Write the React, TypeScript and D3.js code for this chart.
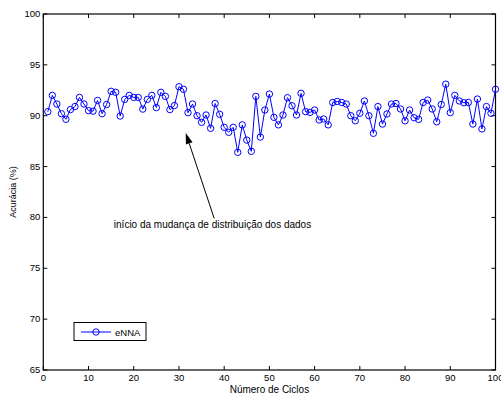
import React from "react";
import * as d3 from "d3";

const cycles: number[] = Array.from({ length: 100 }, (_, i) => i + 1);
const accuracy: number[] = [
  90.4, 92.0, 91.15, 90.2, 89.65, 90.6, 90.9, 91.8, 91.15, 90.5,
  90.45, 91.5, 90.2, 91.1, 92.4, 92.3, 89.97, 91.6, 92.0, 91.8,
  91.8, 90.65, 91.6, 92.0, 90.8, 92.3, 91.9, 90.6, 91.0, 92.85,
  92.6, 90.3, 91.15, 90.0, 89.35, 90.07, 88.76, 91.2, 90.14, 88.86,
  88.37, 88.86, 86.4, 89.1, 87.6, 86.5, 91.9, 87.9, 90.56, 92.13,
  89.84, 89.1, 90.07, 91.77, 90.98, 90.07, 92.2, 90.4, 90.33, 90.56,
  89.58, 89.68, 89.1, 91.3, 91.4, 91.3, 91.15, 90.0, 89.5, 90.24,
  91.45, 90.0, 88.27, 90.9, 89.18, 90.17, 91.15, 91.2, 90.66, 89.5,
  90.56, 89.8, 89.64, 91.3, 91.54, 90.66, 89.4, 91.1, 93.1, 90.3,
  92.0, 91.45, 91.28, 91.3, 89.18, 91.64, 88.7, 90.9, 90.24, 92.6,
];
const xTicks: number[] = [0, 10, 20, 30, 40, 50, 60, 70, 80, 90, 100];
const yTicks: number[] = [65, 70, 75, 80, 85, 90, 95, 100];
const seriesName = "eNNA";
const xLabel = "Número de Ciclos";
const yLabel = "Acurácia (%)";
const annotationText = "início da mudança de distribuição dos dados";
const arrowTip = { x: 31.5, y: 88.3 };
const arrowTail = { x: 37.8, y: 79.9 };
const textPos = { x: 15.6, y: 78.96 };

export default function App() {
  const W = 501, H = 398;
  const left = 43.3, right = 495.5, top = 14, bottom = 370;
  const x = d3.scaleLinear().domain([0, 100]).range([left, right]);
  const y = d3.scaleLinear().domain([65, 100]).range([bottom, top]);
  const line = d3
    .line<number>()
    .x((_, i) => x(cycles[i]))
    .y((d) => y(d));
  const font = "'Liberation Sans', Arial, sans-serif";
  const tl = 4;
  const tx = x(arrowTip.x), ty = y(arrowTip.y);
  const sx = x(arrowTail.x), sy = y(arrowTail.y);
  const ang = Math.atan2(ty - sy, tx - sx);
  const hl = 11, hw = 3.5;
  const bx = tx - hl * Math.cos(ang), by = ty - hl * Math.sin(ang);
  const p1 = [bx + hw * Math.sin(ang), by - hw * Math.cos(ang)];
  const p2 = [bx - hw * Math.sin(ang), by + hw * Math.cos(ang)];
  return (
    <svg
      width={W}
      height={H}
      style={{ position: "absolute", left: 0, top: 0, background: "#fff" }}
      fontFamily={font}
    >
      <rect x={0} y={0} width={W} height={H} fill="#fff" />
      {xTicks.map((t) => (
        <g key={"x" + t}>
          <line x1={x(t)} x2={x(t)} y1={bottom} y2={bottom - tl} stroke="#000" strokeWidth={1} />
          <line x1={x(t)} x2={x(t)} y1={top} y2={top + tl} stroke="#000" strokeWidth={1} />
          <text x={x(t)} y={bottom + 11} fontSize={9.5} textAnchor="middle" fill="#000">
            {t}
          </text>
        </g>
      ))}
      {yTicks.map((t) => (
        <g key={"y" + t}>
          <line x1={left} x2={left + tl} y1={y(t)} y2={y(t)} stroke="#000" strokeWidth={1} />
          <line x1={right} x2={right - tl} y1={y(t)} y2={y(t)} stroke="#000" strokeWidth={1} />
          <text x={left - 3} y={y(t) + 3} fontSize={9.5} textAnchor="end" fill="#000">
            {t}
          </text>
        </g>
      ))}
      <rect x={left} y={top} width={right - left} height={bottom - top} fill="none" stroke="#000" strokeWidth={1.2} />
      <path d={line(accuracy) || ""} fill="none" stroke="#0000ff" strokeWidth={1} />
      {accuracy.map((v, i) => (
        <circle key={i} cx={x(cycles[i])} cy={y(v)} r={3.2} fill="none" stroke="#0000ff" strokeWidth={1} />
      ))}
      <line x1={sx} y1={sy} x2={bx} y2={by} stroke="#000" strokeWidth={1} />
      <polygon points={`${tx},${ty} ${p1[0]},${p1[1]} ${p2[0]},${p2[1]}`} fill="#000" />
      <text x={x(textPos.x)} y={y(textPos.y)} fontSize={10} fill="#000">
        {annotationText}
      </text>
      <rect x={74} y={322.5} width={72} height={18} fill="#fff" stroke="#000" strokeWidth={1} />
      <line x1={81} x2={111} y1={332} y2={332} stroke="#0000ff" strokeWidth={1} />
      <circle cx={96} cy={332} r={3.2} fill="none" stroke="#0000ff" strokeWidth={1} />
      <text x={115} y={335.5} fontSize={9.5} fill="#000">
        {seriesName}
      </text>
      <text x={(left + right) / 2} y={393} fontSize={10} textAnchor="middle" fill="#000">
        {xLabel}
      </text>
      <text
        transform={`translate(16, ${(top + bottom) / 2}) rotate(-90)`}
        fontSize={9}
        textAnchor="middle"
        fill="#000"
      >
        {yLabel}
      </text>
    </svg>
  );
}
